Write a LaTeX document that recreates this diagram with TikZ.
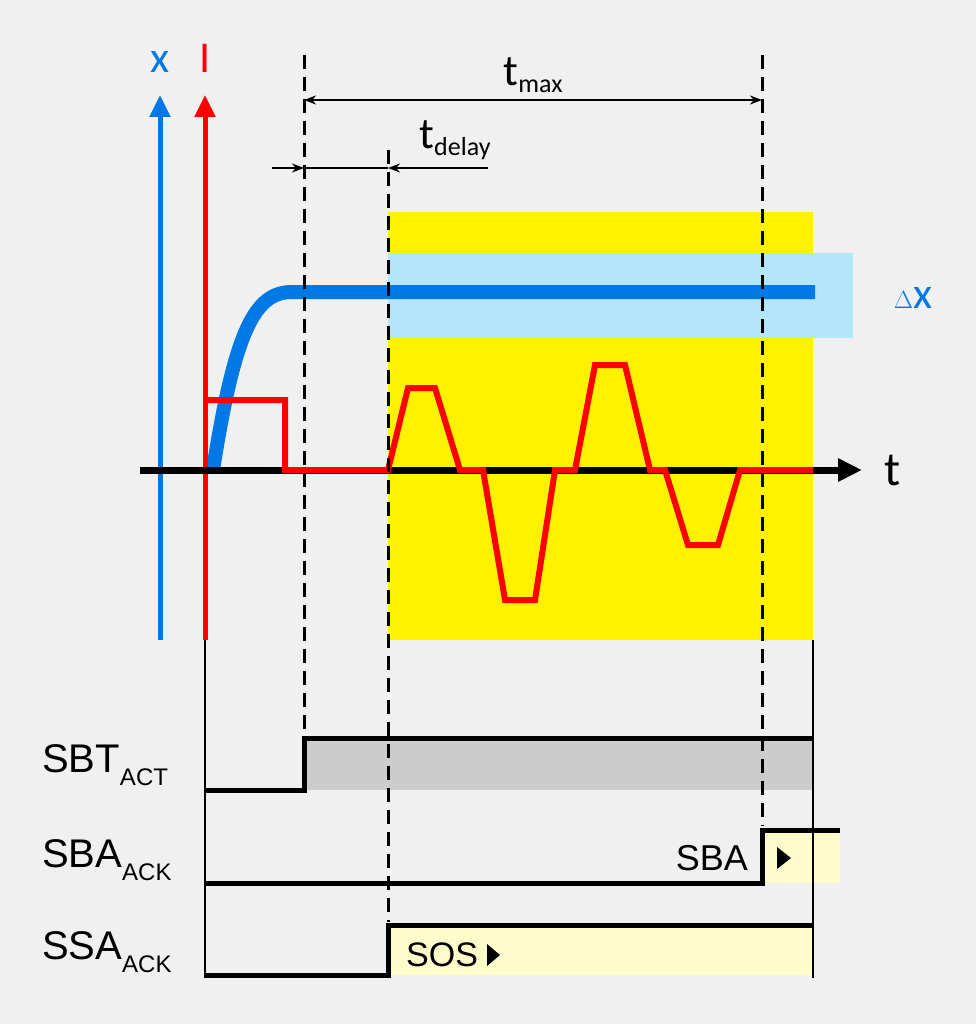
\documentclass[tikz,border=0pt]{standalone}
\usepackage{fontspec}
\setmainfont{Liberation Sans}
\newfontfamily\carl{Carlito}
\usetikzlibrary{arrows.meta}
\begin{document}
\begin{tikzpicture}[x=1pt,y=-1pt,
  dashln/.style={black,line width=3pt,dash pattern=on 14pt off 8pt},
  sig/.style={black,line width=5pt,line join=miter},
  thinln/.style={black,line width=1.5pt},
  dim/.style={black,line width=2.5pt,-{Stealth[length=12pt,width=9pt]}},
  lbl/.style={font=\fontsize{40}{40}\selectfont,inner sep=0pt},
  tri/.style={fill=black}]
\fill[black!6] (0,0) rectangle (976,1024);
\useasboundingbox (0,0) rectangle (976,1024);
% regions
\fill[yellow] (388,212) rectangle (813,640);
\fill[cyan!30!white] (388,253) rectangle (853,338);
\fill[black!20] (304,740) rectangle (813,790);
\fill[yellow!20] (762,830) rectangle (840,883);
\fill[yellow!20] (388,925) rectangle (813,975);
% blue curve
\draw[line width=14pt,color={rgb,255:red,0;green,120;blue,230}] (213,470) .. controls (235,330) and (255,292) .. (292,292) -- (815,292);
% axes
\draw[line width=5pt,color={rgb,255:red,0;green,120;blue,230},-{Triangle[length=22pt,width=20pt]}] (160,640) -- (160,95);
\draw[line width=5pt,red,-{Triangle[length=22pt,width=20pt]}] (205,640) -- (205,95);
\draw[line width=7pt,black,-{Triangle[length=24pt,width=22pt]}] (140,470) -- (862,470);
\node[lbl,font=\carl\fontsize{44}{44}\selectfont,color={rgb,255:red,0;green,120;blue,230}] (xl) at (160,62) {x};
\node[lbl,font=\carl\fontsize{44}{44}\selectfont,red] (il) at (205,58) {I};
\node[lbl,font=\carl\fontsize{48}{48}\selectfont] (tl) at (893,470) {t};
\node[lbl,font=\carl\fontsize{44}{44}\selectfont,color={rgb,255:red,0;green,120;blue,230}] (dx) at (913,298) {$\Delta$x};
% red signal
\draw[line width=6pt,red,line join=miter] (208,400) -- (285,400) -- (285,470) -- (388,470) -- (408,388) -- (435,388) -- (460,470) -- (483,470) -- (505,600) -- (535,600) -- (555,470) -- (575,470) -- (595,365) -- (625,365) -- (650,470) -- (665,470) -- (688,545) -- (718,545) -- (740,470) -- (813,470);
% verticals
\draw[thinln] (205,640) -- (205,978);
\draw[thinln] (813,640) -- (813,978);
\draw[dashln] (304,55) -- (304,735);
\draw[dashln] (388,150) -- (388,922);
\draw[dashln] (762,55) -- (762,826);
% dimensions
\draw[dim,{Stealth[length=12pt,width=9pt]}-{Stealth[length=12pt,width=9pt]}] (304,100) -- (762,100);
\node[lbl,font=\carl\fontsize{44}{44}\selectfont] (tmax) at (533,75) {t\raisebox{-0.35ex}{\fontsize{26}{26}\selectfont max}};
\draw[dim] (272,168) -- (304,168);
\draw[black,line width=2.5pt] (304,168) -- (388,168);
\draw[dim] (488,168) -- (388,168);
\node[lbl,font=\carl\fontsize{44}{44}\selectfont] (tdel) at (455,140) {t\raisebox{-0.35ex}{\fontsize{26}{26}\selectfont delay}};
% signals
\draw[sig] (205,790) -- (304,790) -- (304,738) -- (813,738);
\draw[sig] (205,883) -- (762,883) -- (762,830) -- (840,830);
\draw[sig] (205,975) -- (388,975) -- (388,925) -- (813,925);
\node[lbl,anchor=west] (sbt) at (42,765) {SBT\raisebox{-0.6ex}{\fontsize{24}{24}\selectfont ACT}};
\node[lbl,anchor=west] (sba) at (42,860) {SBA\raisebox{-0.6ex}{\fontsize{24}{24}\selectfont ACK}};
\node[lbl,anchor=west] (ssa) at (42,952) {SSA\raisebox{-0.6ex}{\fontsize{24}{24}\selectfont ACK}};
\node[lbl,anchor=east,font=\fontsize{36}{36}\selectfont] (sbat) at (748,858) {SBA};
\fill[tri] (777,847) -- (791,858) -- (777,869) -- cycle;
\node[lbl,anchor=west,font=\fontsize{34}{34}\selectfont] (sos) at (406,955) {SOS};
\fill[tri] (487,944) -- (500,955) -- (487,966) -- cycle;
\end{tikzpicture}
\end{document}
